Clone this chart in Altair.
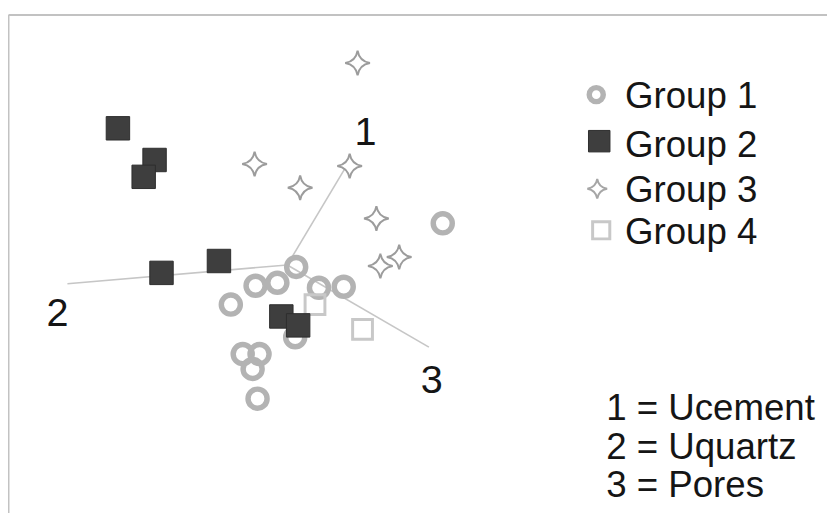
import altair as alt
import pandas as pd

# Biplot scores
g1_x = [-0.57, -0.32, -0.10, 0.09, 0.32, 0.57, 0.08, -0.45, -0.28, -0.35, -0.30, 1.57]
g1_y = [-0.37, -0.18, -0.15, 0.01, -0.20, -0.19, -0.70, -0.87, -0.87, -1.02, -1.32, 0.45]

g2_x = [-1.71, -1.34, -1.45, -1.27, -0.69, -0.06, 0.11]
g2_y = [1.41, 1.09, 0.92, -0.05, 0.07, -0.49, -0.58]

g3_x = [0.71, -0.33, 0.13, 0.63, 0.90, 0.94, 1.13]
g3_y = [2.07, 1.05, 0.81, 1.03, 0.50, 0.02, 0.11]

g4_x = [0.28, 0.76]
g4_y = [-0.37, -0.62]

# Variable vectors (from origin)
vec_names = ["1", "2", "3"]
vec_x = [0.58, -2.22, 1.43]
vec_y = [1.00, -0.16, -0.80]
vec_lab_x = [0.79, -2.32, 1.46]
vec_lab_y = [1.36, -0.47, -1.14]

groups = ["Group 1", "Group 2", "Group 3", "Group 4"]
key_lines = ["1 = Ucement", "2 = Uquartz", "3 = Pores"]

X_DOM = [-2.82, 5.45]
Y_DOM = [-2.47, 2.56]

xs = alt.Scale(domain=X_DOM, nice=False, zero=False)
ys = alt.Scale(domain=Y_DOM, nice=False, zero=False)
ax_x = alt.Axis(orient="top", domain=True, domainColor="#c2c2c2", domainWidth=2,
                ticks=False, labels=False, grid=False, title=None)
ax_y = alt.Axis(orient="left", domain=True, domainColor="#c2c2c2", domainWidth=2,
                ticks=False, labels=False, grid=False, title=None)

# vectors
vec_rows = []
for n, vx, vy in zip(vec_names, vec_x, vec_y):
    vec_rows.append({"v": n, "x": 0.0, "y": 0.03, "o": 0})
    vec_rows.append({"v": n, "x": vx, "y": vy, "o": 1})
vec_df = pd.DataFrame(vec_rows)
vec_lab_df = pd.DataFrame({"t": vec_names, "x": vec_lab_x, "y": vec_lab_y})

lines = alt.Chart(vec_df).mark_line(color="#c6c6c6", strokeWidth=1.6).encode(
    x=alt.X("x:Q", scale=xs, axis=ax_x),
    y=alt.Y("y:Q", scale=ys, axis=ax_y),
    detail="v:N", order="o:Q")

vec_text = alt.Chart(vec_lab_df).mark_text(
    font="Liberation Sans", fontSize=40, color="#151515", align="center", baseline="middle"
).encode(x=alt.X("x:Q", scale=xs), y=alt.Y("y:Q", scale=ys), text="t:N")

def pts(xv, yv):
    return pd.DataFrame({"x": xv, "y": yv})

STAR = "M0,-1Q0.14,-0.14,1,0Q0.14,0.14,0,1Q-0.14,0.14,-1,0Q-0.14,-0.14,0,-1Z"

enc = dict(x=alt.X("x:Q", scale=xs), y=alt.Y("y:Q", scale=ys))

g1 = alt.Chart(pts(g1_x, g1_y)).mark_point(
    shape="circle", filled=False, stroke="#b3b3b3", strokeWidth=5.5, size=370, opacity=1
).encode(**enc)
g3 = alt.Chart(pts(g3_x, g3_y)).mark_point(
    shape=STAR, filled=False, stroke="#9c9c9c", strokeWidth=2, size=625, opacity=1
).encode(**enc)
g4 = alt.Chart(pts(g4_x, g4_y)).mark_point(
    shape="square", filled=False, stroke="#c8c8c8", strokeWidth=3, size=400, opacity=1
).encode(**enc)
g2 = alt.Chart(pts(g2_x, g2_y)).mark_point(
    shape="square", filled=True, fill="#3e3e3e", stroke="#2e2e2e", strokeWidth=1, size=560, opacity=1
).encode(**enc)

# Legend (manual, in data space)
leg_sym_x = [3.12, 3.15, 3.13, 3.17]
leg_sym_y = [1.75, 1.28, 0.80, 0.38]
leg_txt_x = 3.41
leg_txt_y = [1.72, 1.23, 0.78, 0.35]

l1 = alt.Chart(pts([leg_sym_x[0]], [leg_sym_y[0]])).mark_point(
    shape="circle", filled=False, stroke="#b3b3b3", strokeWidth=5.5, size=200, opacity=1).encode(**enc)
l2 = alt.Chart(pts([leg_sym_x[1]], [leg_sym_y[1]])).mark_point(
    shape="square", filled=True, fill="#3e3e3e", stroke="#2e2e2e", strokeWidth=1, size=470, opacity=1).encode(**enc)
l3 = alt.Chart(pts([leg_sym_x[2]], [leg_sym_y[2]])).mark_point(
    shape=STAR, filled=False, stroke="#a6a6a6", strokeWidth=2, size=400, opacity=1).encode(**enc)
l4 = alt.Chart(pts([leg_sym_x[3]], [leg_sym_y[3]])).mark_point(
    shape="square", filled=False, stroke="#c8c8c8", strokeWidth=3, size=300, opacity=1).encode(**enc)

leg_text = alt.Chart(pd.DataFrame({"t": groups, "x": [leg_txt_x] * 4, "y": leg_txt_y})).mark_text(
    font="Liberation Sans", fontSize=37, color="#151515", align="left", baseline="middle"
).encode(x=alt.X("x:Q", scale=xs), y=alt.Y("y:Q", scale=ys), text="t:N")

key_x = 3.22
key_y = [-1.43, -1.82, -2.20]
key_text = alt.Chart(pd.DataFrame({"t": key_lines, "x": [key_x] * 3, "y": key_y})).mark_text(
    font="Liberation Sans", fontSize=37, color="#151515", align="left", baseline="middle"
).encode(x=alt.X("x:Q", scale=xs), y=alt.Y("y:Q", scale=ys), text="t:N")

chart = alt.layer(
    lines, g1, g3, g4, g2, vec_text, l1, l2, l3, l4, leg_text, key_text
).properties(
    width=827, height=503,
    autosize=alt.AutoSizeParams(type="none"),
    padding={"left": 0, "top": 4, "right": 0, "bottom": 0},
    background="#ffffff",
).configure_view(stroke=None)

chart.save("out.html", embed_options={"renderer": "svg", "actions": False})
